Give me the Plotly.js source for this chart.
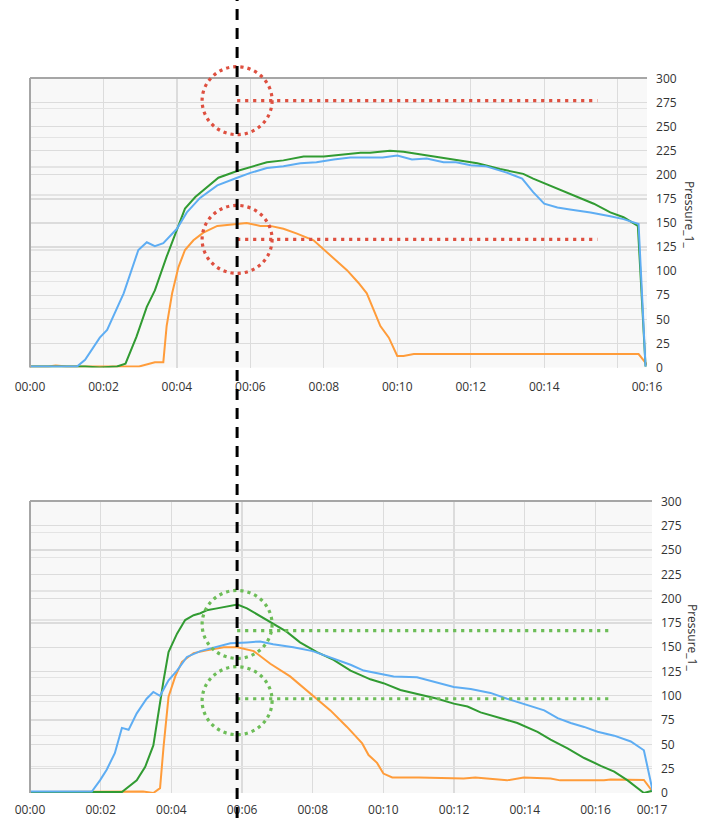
<!DOCTYPE html>
<html>
<head>
<meta charset="utf-8">
<script src="https://cdn.plot.ly/plotly-3.0.1.min.js"></script>
<style>html,body{margin:0;padding:0;background:#fff;}#chart{width:711px;height:818px;}</style>
</head>
<body>
<div id="chart"></div>
<script>
// ---------- DATA (time in seconds, mm:ss) ----------
// Top chart
var topBlueT   = [0, 0.5, 1.0, 1.28, 1.5, 1.9, 2.1, 2.55, 2.95, 3.18, 3.4, 3.63, 4.0, 4.27, 4.63, 5.1, 5.64, 6.0, 6.45, 6.9, 7.36, 7.8, 8.27, 8.72, 9.0, 9.6, 10.0, 10.4, 10.8, 11.26, 11.6, 12.0, 12.4, 13.0, 13.4, 13.7, 14.0, 14.36, 14.7, 15.26, 15.8, 16.16, 16.57, 16.76];
var topBlueV   = [1, 1, 1, 1, 8, 31, 39, 77, 122, 130, 126, 129, 144, 161, 176, 189, 197, 202, 207, 209, 212, 213, 216, 218, 218, 218, 220, 216, 217, 213, 213, 210, 209, 202, 196, 182, 170, 166, 164, 161, 157, 154, 149, 1];
var topGreenT  = [0, 0.5, 1.0, 1.5, 1.9, 2.37, 2.6, 2.9, 3.18, 3.4, 3.72, 4.0, 4.22, 4.5, 4.82, 5.13, 5.64, 6.0, 6.45, 6.9, 7.45, 8.0, 8.54, 9.0, 9.26, 9.8, 10.17, 10.8, 11.7, 12.18, 12.8, 13.43, 13.7, 14.08, 14.44, 14.9, 15.35, 15.8, 16.16, 16.55, 16.76];
var topGreenV  = [1, 1, 1, 1, 0, 1, 4, 32, 63, 80, 115, 144, 165, 177, 187, 197, 204, 208, 213, 215, 219, 219, 221, 223, 223, 225, 224, 220, 215, 212, 206, 201, 196, 190, 184, 177, 170, 161, 156, 147, 1];
var topOrangeT = [0, 0.5, 0.7, 1.0, 1.5, 2.0, 2.6, 2.97, 3.4, 3.63, 3.72, 3.87, 4.04, 4.22, 4.45, 4.72, 5.1, 5.54, 5.9, 6.27, 6.54, 6.9, 7.27, 7.72, 8.1, 8.63, 8.94, 9.17, 9.54, 9.77, 10.0, 10.17, 10.45, 12, 14, 16.57, 16.8];
var topOrangeV = [1, 1, 2, 1, 1, 1, 1, 1, 5.5, 5.5, 43, 77, 104, 122, 132, 140, 147, 149, 150, 147, 147, 144, 139, 132, 119, 101, 88, 77, 43, 31, 12, 12, 14, 14, 14, 14, 3];

// Bottom chart
var botBlueT   = [0, 0.5, 1.0, 1.5, 1.75, 1.98, 2.17, 2.4, 2.6, 2.79, 3.02, 3.3, 3.49, 3.68, 3.92, 4.16, 4.44, 4.82, 5.29, 5.67, 6.14, 6.51, 6.88, 7.45, 8.0, 8.59, 9.07, 9.44, 9.82, 10.29, 10.95, 11.6, 11.99, 12.47, 13.03, 13.5, 14.08, 14.55, 14.93, 15.3, 15.68, 16.06, 16.53, 17.0, 17.37, 17.62];
var botBlueV   = [1.5, 1.5, 1.5, 1.5, 1.5, 13, 24, 41, 67, 65, 82, 97, 104, 100, 116, 126, 140, 146, 150, 154, 155, 156, 153, 150, 146, 138, 132, 126, 123, 120, 119, 113, 109, 107, 103, 97, 90, 85, 77, 72, 68, 63, 59, 53, 44, 2];
var botGreenT  = [0, 0.5, 1.0, 1.2, 1.5, 2.0, 2.6, 3.02, 3.26, 3.49, 3.63, 3.78, 3.92, 4.16, 4.39, 4.63, 4.82, 5.0, 5.29, 5.67, 5.87, 6.14, 6.51, 6.88, 7.26, 7.64, 8.12, 8.59, 9.07, 9.63, 10.0, 10.48, 10.95, 11.53, 11.99, 12.38, 12.75, 13.31, 13.79, 14.36, 14.73, 15.21, 15.68, 16.15, 16.53, 16.91, 17.2, 17.37, 17.62];
var botGreenV  = [1, 1, 1, 0, 1, 1, 1, 13, 27, 49, 82, 116, 145, 164, 178, 183, 185, 188, 190, 193, 194, 190, 182, 174, 166, 155, 145, 137, 126, 117, 113, 106, 102, 97, 92, 89, 83, 77, 72, 63, 55, 46, 36, 28, 22, 13, 5, 0, 2.4];
var botOrangeT = [0, 0.5, 1.0, 1.5, 2.0, 2.5, 3.2, 3.49, 3.68, 3.78, 3.92, 4.11, 4.3, 4.63, 5.0, 5.48, 5.87, 6.33, 6.8, 7.36, 7.93, 8.5, 8.97, 9.4, 9.58, 9.82, 10.0, 10.25, 11, 12.27, 12.6, 13.0, 13.5, 13.97, 14.4, 14.73, 15.0, 16.24, 16.43, 17.37, 17.62];
var botOrangeV = [1, 1, 1, 1, 1, 1, 1.5, 0, 5, 48, 99, 120, 135, 144, 147, 150, 150, 146, 133, 120, 103, 85, 68, 51, 39, 31, 20, 16, 16, 15, 16, 15, 13, 16, 15, 15, 13, 13, 14, 13.4, 1.3];

// Axis ticks
var yTickVals  = [0, 25, 50, 75, 100, 125, 150, 175, 200, 225, 250, 275, 300];
var yTickText  = ['0', '25', '50', '75', '100', '125', '150', '175', '200', '225', '250', '275', '300'];
var topXTickVals = [0, 2, 4, 6, 8, 10, 12, 14, 16.8];
var topXTickText = ['00:00', '00:02', '00:04', '00:06', '00:08', '00:10', '00:12', '00:14', '00:16'];
var botXTickVals = [0, 2, 4, 6, 8, 10, 12, 14, 16, 17.6];
var botXTickText = ['00:00', '00:02', '00:04', '00:06', '00:08', '00:10', '00:12', '00:14', '00:16', '00:17'];
var xGridVals = [0, 2, 4, 6, 8, 10, 12, 14, 16];
var topYExtraGrid = [61, 89, 122, 179, 208, 239, 269];
var botYExtraGrid = [27, 59, 94, 119, 178, 208, 242, 268];
var axisTitle = 'Pressure_1_';

// Annotation marks (hand-drawn guides)
var cursorTimeBottom = 5.86;          // dashed cursor (bottom-chart time)
var topLevels = [277, 133];           // red guide levels
var topLineEnd = 15.45;
var botLevels = [167, 97];            // green guide levels
var botCircleLevels = [173.5, 95];
var botLineEnd = 16.45;

// ---------- LAYOUT ----------
var topXRange = [0, 16.8], botXRange = [0, 17.6], yRange = [0, 300.5];
var topXDom = [0, 0.992], botXDom = [0, 1];
var topYDom = [0.5951, 1], botYDom = [0, 0.4084];
function toPaper(v, range, dom) { return dom[0] + (v - range[0]) / (range[1] - range[0]) * (dom[1] - dom[0]); }
function fromPaper(p, range, dom) { return range[0] + (p - dom[0]) / (dom[1] - dom[0]) * (range[1] - range[0]); }

var cursorPaper = toPaper(cursorTimeBottom, botXRange, botXDom);
var cursorTimeTop = fromPaper(cursorPaper, topXRange, topXDom);

var FONT = '"Open Sans", "Noto Sans", sans-serif';
var TXT = '#333333';
var GRID = '#dcdcdc';
var BLUE = '#5eadf3', GREEN = '#319b32', ORANGE = '#ff9c3a';
var RED_DOT = '#de5040', GREEN_DOT = '#6dbd58';

function line(x, y, color, xa, ya) {
  return {x: x, y: y, type: 'scatter', mode: 'lines', xaxis: xa, yaxis: ya,
          line: {color: color, width: 2}, hoverinfo: 'skip', showlegend: false};
}
var data = [
  line(topOrangeT, topOrangeV, ORANGE, 'x', 'y'),
  line(topGreenT, topGreenV, GREEN, 'x', 'y'),
  line(topBlueT, topBlueV, BLUE, 'x', 'y'),
  line(botOrangeT, botOrangeV, ORANGE, 'x2', 'y2'),
  line(botGreenT, botGreenV, GREEN, 'x2', 'y2'),
  line(botBlueT, botBlueV, BLUE, 'x2', 'y2')
];

function xAxis(dom, range, tv, tt, anchor, standoff) {
  return {domain: dom, range: range, anchor: anchor, tickmode: 'array', tickvals: tv, ticktext: tt,
          showgrid: false, zeroline: false, showline: false, ticks: '', ticklabelstandoff: standoff,
          tickfont: {family: FONT, size: 12, color: TXT},
          minor: {tickmode: 'array', tickvals: xGridVals, showgrid: true, gridcolor: GRID, gridwidth: 1.3, ticks: ''}};
}
function yAxis(dom, anchor, extra) {
  return {domain: dom, range: yRange, anchor: anchor, side: 'right', tickmode: 'array',
          tickvals: yTickVals, ticktext: yTickText, showgrid: true, gridcolor: GRID, gridwidth: 1.3,
          zeroline: false, showline: false, ticks: '', ticklabelstandoff: 8,
          tickfont: {family: FONT, size: 12, color: TXT},
          minor: {tickmode: 'array', tickvals: extra, showgrid: true, gridcolor: '#e4e4e4', gridwidth: 1.3, ticks: ''}};
}

var shapes = [];
// plot frames (top + left borders)
[['x', 'y'], ['x2', 'y2']].forEach(function (r) {
  shapes.push({type: 'line', xref: r[0] + ' domain', yref: r[1] + ' domain', x0: 0, x1: 1, y0: 1, y1: 1, line: {color: '#a6a6a6', width: 2}});
  shapes.push({type: 'line', xref: r[0] + ' domain', yref: r[1] + ' domain', x0: 0, x1: 0, y0: 0, y1: 1, line: {color: '#a6a6a6', width: 2}});
});
// guide lines + circles
function guides(levels, circleLevels, lineEnd, startT, xref, yref, yDom, color) {
  levels.forEach(function (lv, i) {
    shapes.push({type: 'line', xref: xref, yref: yref, x0: startT, x1: lineEnd, y0: lv, y1: lv,
                 line: {color: color, width: 3.2, dash: '3.2px,4.8px'}});
    var cy = toPaper(circleLevels[i], yRange, yDom);
    shapes.push({type: 'circle', xref: 'paper', yref: 'paper', xsizemode: 'pixel', ysizemode: 'pixel',
                 xanchor: cursorPaper, yanchor: cy, x0: -35, x1: 35, y0: -34, y1: 34,
                 line: {color: color, width: 3.2, dash: '3.2px,4px'}, fillcolor: 'rgba(0,0,0,0)'});
  });
}
guides(topLevels, topLevels, topLineEnd, cursorTimeTop, 'x', 'y', topYDom, RED_DOT);
guides(botLevels, botCircleLevels, botLineEnd, cursorTimeBottom, 'x2', 'y2', botYDom, GREEN_DOT);
// dashed cursor across the whole picture
shapes.push({type: 'line', xref: 'paper', yref: 'paper', x0: cursorPaper, x1: cursorPaper,
             y0: -25 / 715, y1: 793 / 715, line: {color: '#000000', width: 3, dash: '11px,8px'}});

var annotations = [
  {xref: 'paper', yref: 'paper', x: (690 - 30) / 622, y: (793 - 214) / 715, text: axisTitle, textangle: 90,
   showarrow: false, font: {family: FONT, size: 12, color: TXT}, xanchor: 'center', yanchor: 'middle'},
  {xref: 'paper', yref: 'paper', x: (693 - 30) / 622, y: (793 - 638) / 715, text: axisTitle, textangle: 90,
   showarrow: false, font: {family: FONT, size: 12, color: TXT}, xanchor: 'center', yanchor: 'middle'}
];

var layout = {
  width: 711, height: 818,
  margin: {l: 30, r: 59, t: 78, b: 25, pad: 0},
  paper_bgcolor: '#ffffff', plot_bgcolor: '#f8f8f8',
  showlegend: false,
  xaxis: xAxis(topXDom, topXRange, topXTickVals, topXTickText, 'y', 10),
  yaxis: yAxis(topYDom, 'x', topYExtraGrid),
  xaxis2: xAxis(botXDom, botXRange, botXTickVals, botXTickText, 'y2', 8),
  yaxis2: yAxis(botYDom, 'x2', botYExtraGrid),
  shapes: shapes,
  annotations: annotations
};

Plotly.newPlot('chart', data, layout, {staticPlot: true, displayModeBar: false});
</script>
</body>
</html>
